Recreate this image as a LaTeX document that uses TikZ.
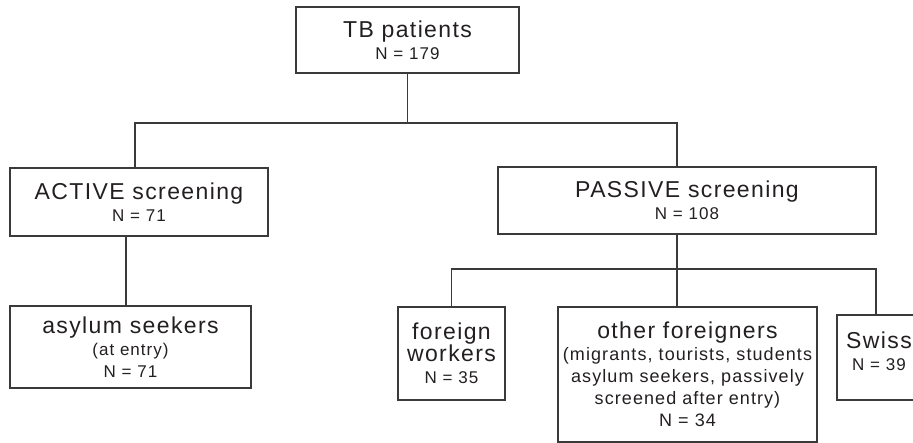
\documentclass[tikz,border=0pt]{standalone}
\usepackage{fontspec}
\setmainfont{Liberation Sans}[LetterSpace=6]
\usetikzlibrary{calc}
\definecolor{ink}{HTML}{231F20}
\definecolor{rule}{HTML}{3A3A3A}
\tikzset{
  x=1pt,y=-1pt,
  box/.style={draw=rule,line width=1.2pt,align=center,inner sep=0pt,
    text=ink,font=\fontsize{23}{22}\selectfont},
  link/.style={draw=rule,line width=1.2pt}
}
\newcommand{\nval}[1]{{\fontsize{17}{22}\selectfont #1}}
\newcommand{\nnote}[1]{{\fontsize{18}{22}\selectfont #1}}

\begin{document}
\begin{tikzpicture}
    \useasboundingbox (0,0) rectangle (913,443);
    \node[box,minimum width=223,minimum height=66] (n_0) at (407.5,40)
      {TB patients\\\nval{N = 179}};
    \node[box,minimum width=258,minimum height=68] (a_1) at (139,202)
      {ACTIVE screening\\\nval{N = 71}};
    \node[box,minimum width=378,minimum height=67] (p_1) at (687,200.5)
      {PASSIVE screening\\\nval{N = 108}};
    \node[box,minimum width=241,minimum height=82] (a_2) at (130.5,347)
      {asylum seekers\\\nval{(at entry)}\\\nval{N = 71}};
    \node[box,minimum width=107,minimum height=93] (p_2) at (451.5,353.5)
      {foreign\\workers\\\nval{N = 35}};
    \node[box,minimum width=259,minimum height=135] (p_3) at (687.5,374.5)
      {other foreigners\\\nnote{(migrants, tourists, students}\\
       \nnote{asylum seekers, passively}\\\nnote{screened after entry)}\\
       \nnote{N = 34}};
    \node[box,minimum width=78,minimum height=85,
      label={[align=center,text=ink,font=\fontsize{23}{22}\selectfont,
        xshift=3pt,yshift=6.5pt]center:Swiss\\\nval{N = 39}}] (p_4) at (876,357.5) {};
    \coordinate (j_1) at (135,123);
    \coordinate (j_2) at (677,123);
    \coordinate (k_1) at (451,269);
    \draw[link] (n_0) -- (n_0 |- j_1);
    \draw[link] (a_1.north -| j_1) |- (j_2) -- (p_1.north -| j_2);
    \draw[link] ([xshift=-13pt]a_1.south) -- ([xshift=-4.5pt]a_2.north);
    \draw[link] ([xshift=-10pt]p_1.south) -- ([xshift=-10.5pt]p_3.north);
    \draw[link] (p_2.north) |- (p_4.north |- k_1) -- (p_4.north);
\end{tikzpicture}
\end{document}
